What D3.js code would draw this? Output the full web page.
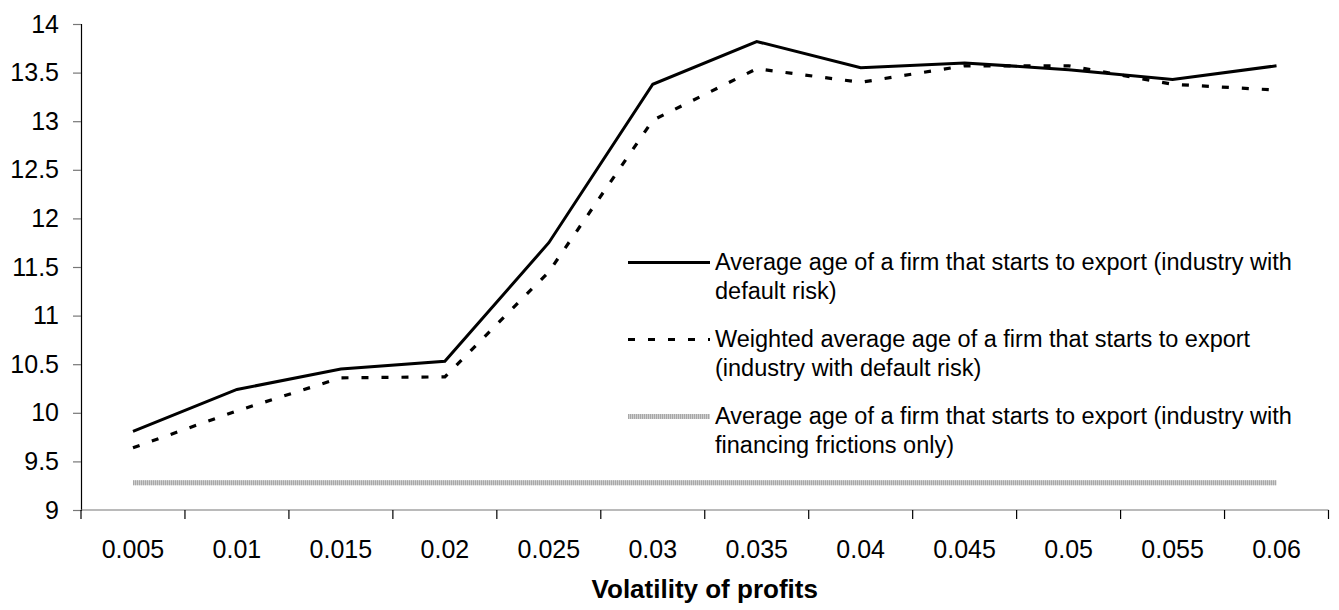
<!DOCTYPE html>
<html>
<head>
<meta charset="utf-8">
<script src="https://cdn.jsdelivr.net/npm/d3@7"></script>
<style>
  html, body { margin: 0; padding: 0; background: #fff; }
  svg { display: block; font-family: "Liberation Sans", Arial, sans-serif; }
</style>
</head>
<body>
<svg id="chart" width="1339" height="610"></svg>
<script>
const categories = ["0.005","0.01","0.015","0.02","0.025","0.03","0.035","0.04","0.045","0.05","0.055","0.06"];
const avgAgeDefault = [9.81, 10.24, 10.45, 10.53, 11.75, 13.38, 13.82, 13.55, 13.60, 13.53, 13.43, 13.57];
const weightedAgeDefault = [9.64, 10.02, 10.36, 10.37, 11.45, 13.01, 13.54, 13.40, 13.57, 13.57, 13.38, 13.32];
const avgAgeFrictions = [9.28, 9.28, 9.28, 9.28, 9.28, 9.28, 9.28, 9.28, 9.28, 9.28, 9.28, 9.28];
const yTicks = [9, 9.5, 10, 10.5, 11, 11.5, 12, 12.5, 13, 13.5, 14];
const seriesNames = [
  ["Average age of a firm that starts to export (industry with", "default risk)"],
  ["Weighted average age of a firm that starts to export", "(industry with default risk)"],
  ["Average age of a firm that starts to export (industry with", "financing frictions only)"]
];
const xTitle = "Volatility of profits";

const svg = d3.select("#chart");
const plotLeft = 81, plotRight = 1328.5, plotTop = 24, plotBottom = 510;

const x = d3.scaleBand().domain(categories).range([plotLeft, plotRight]).paddingInner(0).paddingOuter(0);
const y = d3.scaleLinear().domain([9, 14]).range([plotBottom, plotTop]);

// Y axis
const yAxis = svg.append("g").attr("transform", `translate(${plotLeft},0)`)
  .call(d3.axisLeft(y).tickValues(yTicks).tickSize(8).tickPadding(14).tickFormat(d => d3.format("")(d)));
yAxis.select(".domain").attr("stroke", "#000").attr("stroke-width", 1.2);
yAxis.selectAll(".tick line").attr("stroke", "#777").attr("stroke-width", 1.2);
yAxis.selectAll(".tick text").attr("font-size", 25).attr("fill", "#000")
  .attr("font-family", "'Liberation Sans', Arial, sans-serif");

// X axis
const xAxis = svg.append("g").attr("transform", `translate(0,${plotBottom})`)
  .call(d3.axisBottom(x).tickSize(0).tickPadding(30));
xAxis.select(".domain").remove();
xAxis.selectAll(".tick text").attr("font-size", 25).attr("fill", "#000")
  .attr("font-family", "'Liberation Sans', Arial, sans-serif");
svg.append("line").attr("x1", plotLeft).attr("x2", plotRight).attr("y1", plotBottom).attr("y2", plotBottom)
  .attr("stroke", "#777").attr("stroke-width", 1.2);
const boundaries = [x(categories[0])].concat(categories.map(c => x(c) + x.bandwidth()));
svg.append("g").selectAll("line").data(boundaries).join("line")
  .attr("x1", d => d).attr("x2", d => d).attr("y1", plotBottom).attr("y2", plotBottom + 9)
  .attr("stroke", "#000").attr("stroke-width", 1.2);

svg.append("text").attr("x", (plotLeft + plotRight) / 2).attr("y", 598)
  .attr("text-anchor", "middle").attr("font-size", 26).attr("font-weight", "bold")
  .text(xTitle);

const line = d3.line().x((d, i) => x(categories[i]) + x.bandwidth() / 2).y(d => y(d));

// Gray frictions line (hatched look)
const g3 = svg.append("g");
g3.append("path").attr("d", line(avgAgeFrictions)).attr("fill", "none").attr("stroke", "#d0d0d0").attr("stroke-width", 5);
g3.append("path").attr("d", line(avgAgeFrictions)).attr("fill", "none").attr("stroke", "#a8a8a8").attr("stroke-width", 5).attr("stroke-dasharray", "1,1");

svg.append("path").attr("d", line(weightedAgeDefault)).attr("fill", "none")
  .attr("stroke", "#000").attr("stroke-width", 3.2).attr("stroke-dasharray", "7,13");
svg.append("path").attr("d", line(avgAgeDefault)).attr("fill", "none")
  .attr("stroke", "#000").attr("stroke-width", 3);

// Legend
const legX1 = 628, legX2 = 710, legTextX = 715;
const baselines = [270, 347, 424];
const lg = svg.append("g");
baselines.forEach((b, i) => {
  const ly = b - 7.5;
  if (i === 0) {
    lg.append("line").attr("x1", legX1).attr("x2", legX2).attr("y1", ly).attr("y2", ly)
      .attr("stroke", "#000").attr("stroke-width", 3);
  } else if (i === 1) {
    lg.append("line").attr("x1", legX1).attr("x2", legX2).attr("y1", ly).attr("y2", ly)
      .attr("stroke", "#000").attr("stroke-width", 3.2).attr("stroke-dasharray", "7,13");
  } else {
    lg.append("line").attr("x1", legX1).attr("x2", legX2).attr("y1", ly).attr("y2", ly)
      .attr("stroke", "#d0d0d0").attr("stroke-width", 5);
    lg.append("line").attr("x1", legX1).attr("x2", legX2).attr("y1", ly).attr("y2", ly)
      .attr("stroke", "#a8a8a8").attr("stroke-width", 5).attr("stroke-dasharray", "1,1");
  }
  seriesNames[i].forEach((t, j) => {
    lg.append("text").attr("x", legTextX).attr("y", b + j * 29)
      .attr("font-size", 23.5).attr("fill", "#000").text(t);
  });
});
</script>
</body>
</html>
